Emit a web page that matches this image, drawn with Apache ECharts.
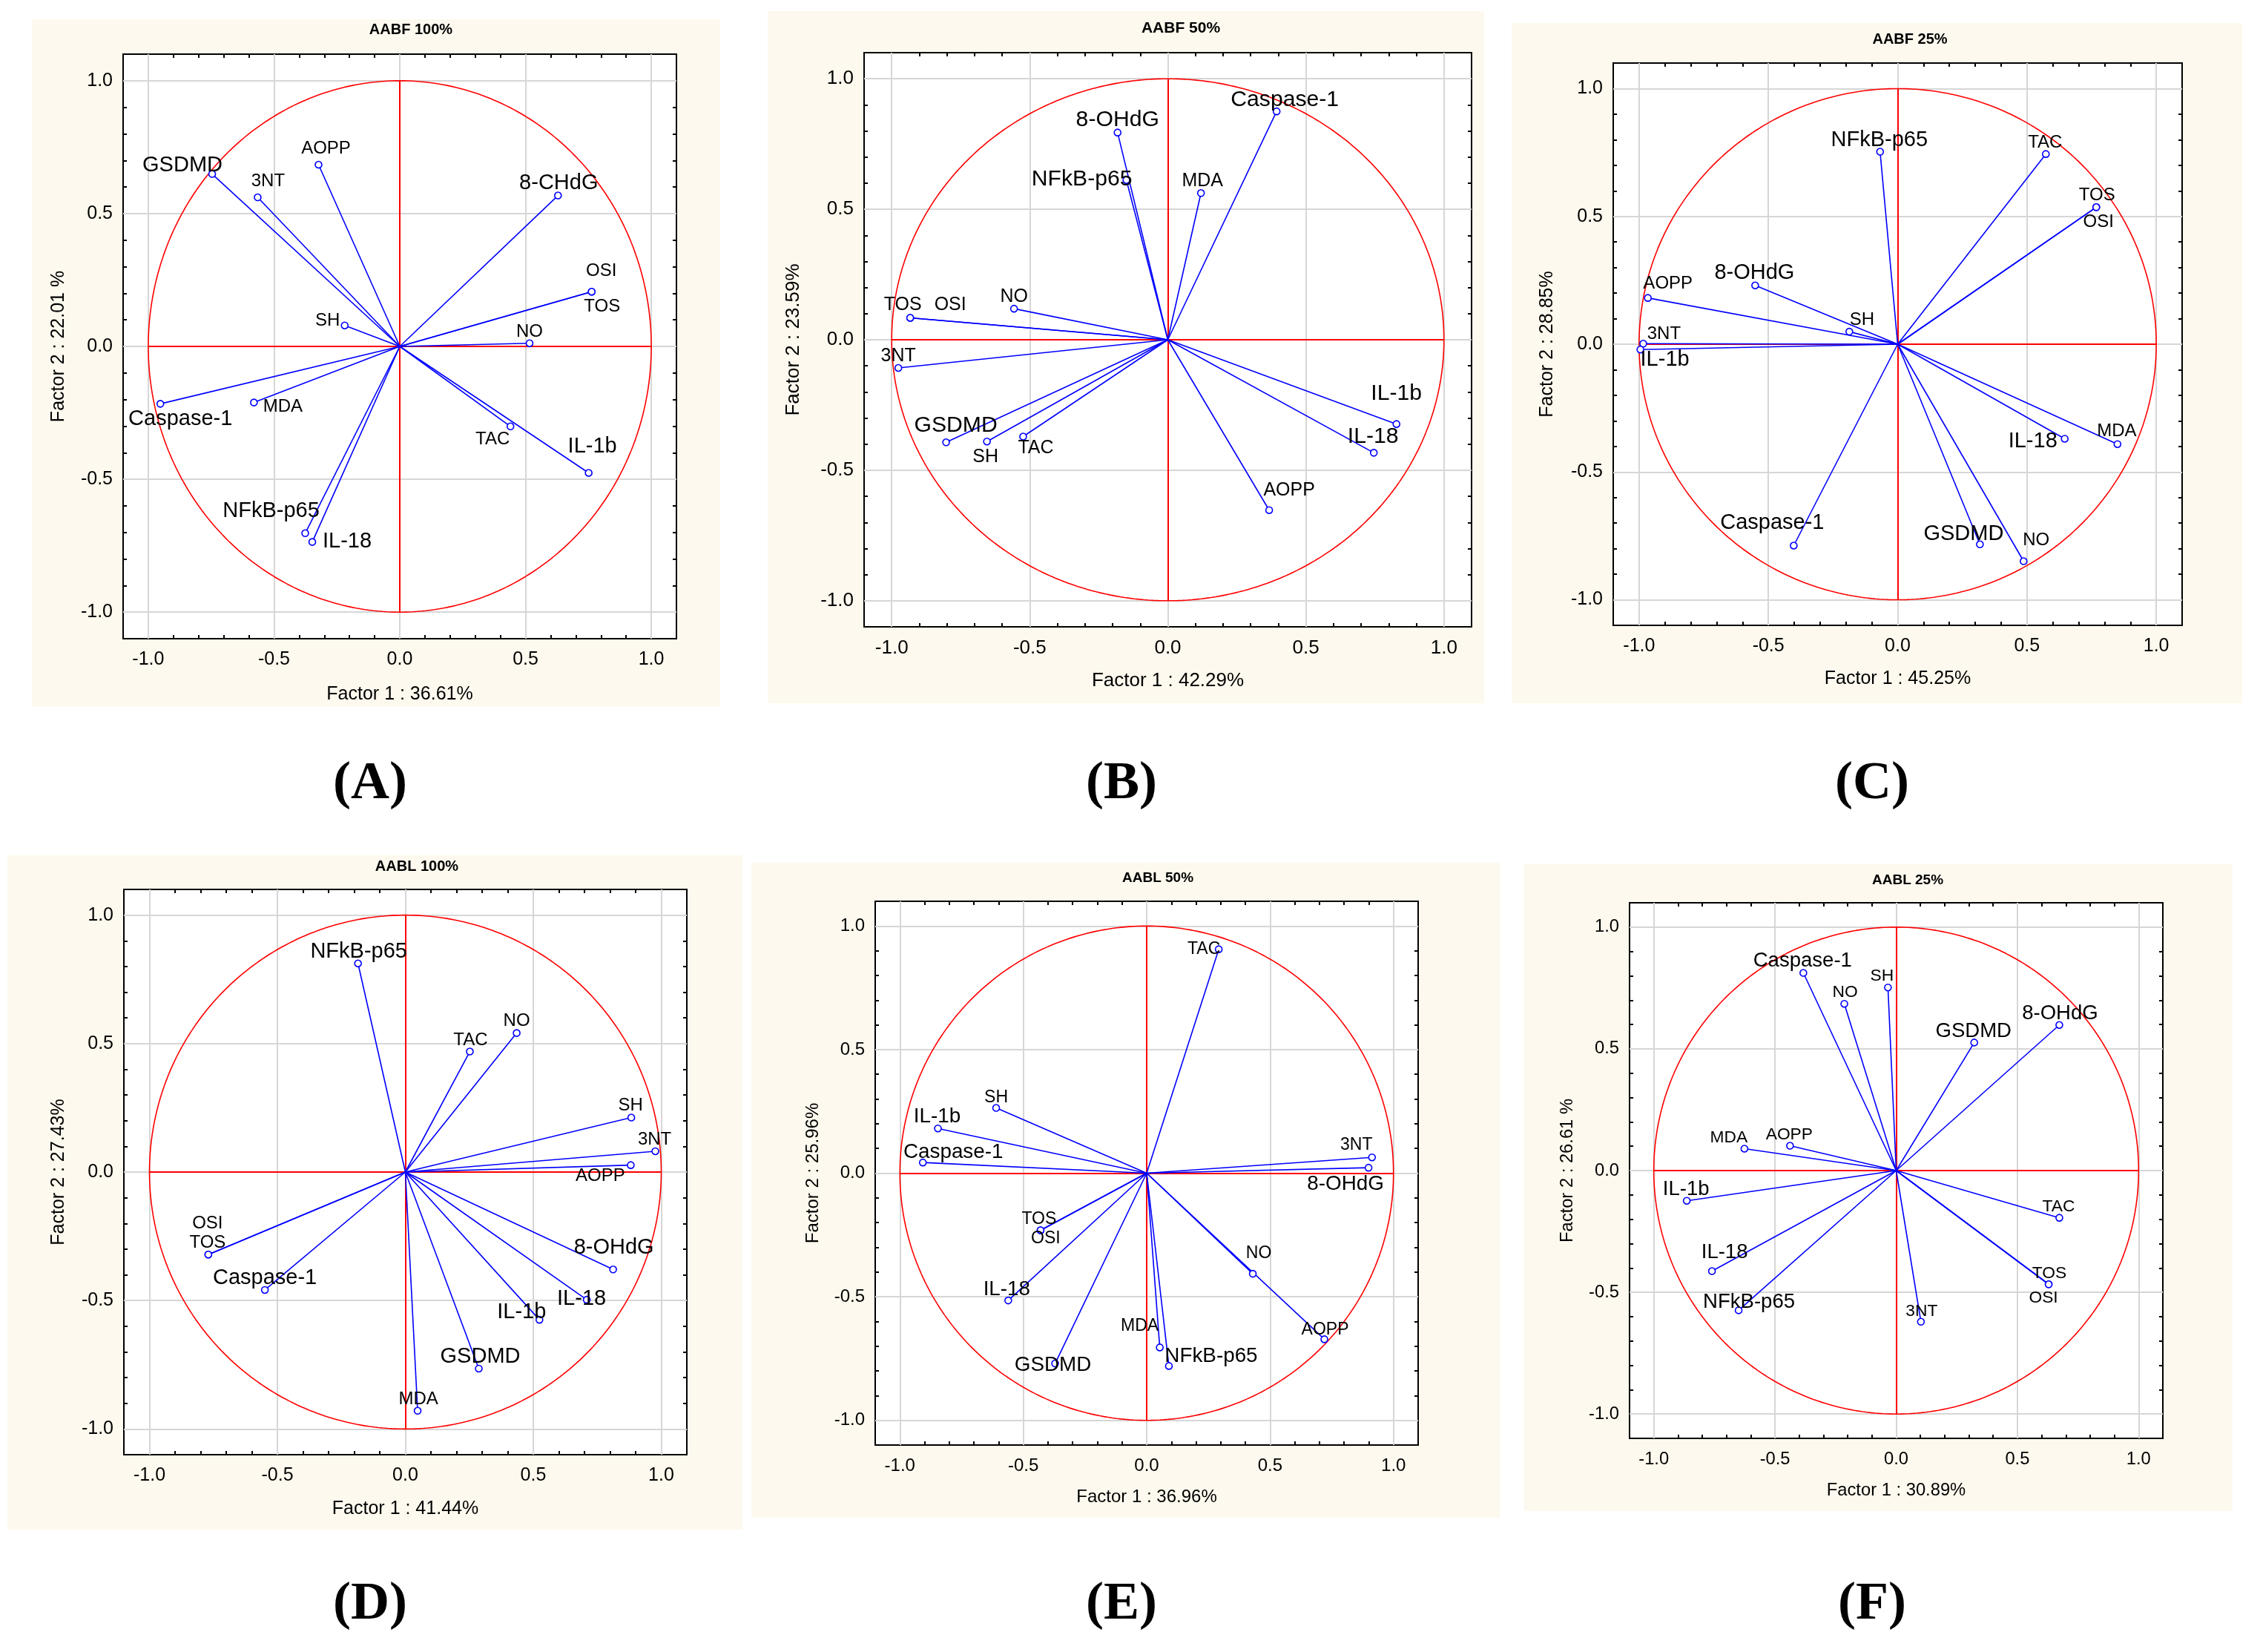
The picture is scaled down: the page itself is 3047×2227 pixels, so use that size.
<!DOCTYPE html>
<html><head><meta charset="utf-8">
<script src="https://cdn.jsdelivr.net/npm/echarts/dist/echarts.min.js"></script>
<style>html,body{margin:0;padding:0;background:#fff;}#c{width:3047px;height:2227px;}</style>
</head><body><div id="c"></div>
<script>
// ---------------- DATA ----------------
const VARS = ['GSDMD','3NT','AOPP','8-OHdG','OSI','TOS','SH','NO','Caspase-1','MDA','TAC','IL-1b','NFkB-p65','IL-18'];
const LABELS_A = ['GSDMD','3NT','AOPP','8-CHdG','OSI','TOS','SH','NO','Caspase-1','MDA','TAC','IL-1b','NFkB-p65','IL-18'];

const PANEL_TITLES = ['AABF 100%','AABF 50%','AABF 25%','AABL 100%','AABL 50%','AABL 25%'];
const PANEL_LETTERS = ['(A)','(B)','(C)','(D)','(E)','(F)'];
const FACTOR1_NAMES = ['Factor 1 : 36.61%','Factor 1 : 42.29%','Factor 1 : 45.25%','Factor 1 : 41.44%','Factor 1 : 36.96%','Factor 1 : 30.89%'];
const FACTOR2_NAMES = ['Factor 2 : 22.01 %','Factor 2 : 23.59%','Factor 2 : 28.85%','Factor 2 : 27.43%','Factor 2 : 25.96%','Factor 2 : 26.61 %'];
const MAJOR_TICKS = [-1, -0.5, 0, 0.5, 1];

// loadings (Factor 1, Factor 2) in VARS order
const A_F1 = [-0.746,-0.565,-0.323, 0.629, 0.763, 0.763,-0.219, 0.516,-0.952,-0.580, 0.440, 0.751,-0.376,-0.348];
const A_F2 = [ 0.649, 0.561, 0.684, 0.568, 0.206, 0.206, 0.079, 0.012,-0.216,-0.211,-0.301,-0.476,-0.703,-0.736];
const B_F1 = [-0.803,-0.976, 0.367,-0.182,-0.933,-0.933,-0.655,-0.557, 0.394, 0.120,-0.524, 0.828,-0.150, 0.746];
const B_F2 = [-0.393,-0.108,-0.653, 0.794, 0.084, 0.084,-0.390, 0.119, 0.875, 0.562,-0.371,-0.323, 0.612,-0.433];
const C_F1 = [ 0.318,-0.984,-0.966,-0.551, 0.768, 0.768,-0.187, 0.487,-0.402, 0.850, 0.573,-0.995,-0.068, 0.646];
const C_F2 = [-0.783, 0.002, 0.181, 0.230, 0.536, 0.536, 0.049,-0.849,-0.788,-0.391, 0.744,-0.021, 0.753,-0.370];
const D_F1 = [ 0.287, 0.977, 0.881, 0.812,-0.770,-0.770, 0.883, 0.435,-0.549, 0.048, 0.252, 0.524,-0.185, 0.709];
const D_F2 = [-0.765, 0.081, 0.027,-0.379,-0.321,-0.321, 0.212, 0.541,-0.459,-0.929, 0.469,-0.575, 0.812,-0.497];
const E_F1 = [-0.371, 0.913, 0.720, 0.899,-0.430,-0.430,-0.610, 0.430,-0.907, 0.053, 0.292,-0.846, 0.090,-0.561];
const E_F2 = [-0.770, 0.064,-0.672, 0.022,-0.231,-0.231, 0.264,-0.407, 0.043,-0.705, 0.906, 0.181,-0.780,-0.515];
const F_F1 = [ 0.322, 0.102,-0.438, 0.673, 0.629, 0.629,-0.034,-0.214,-0.383,-0.626, 0.673,-0.864,-0.650,-0.760];
const F_F2 = [ 0.526,-0.621, 0.102, 0.598,-0.467,-0.467, 0.752, 0.685, 0.812, 0.090,-0.194,-0.124,-0.574,-0.413];

// ---------------- LAYOUT / STYLE ----------------
const LABEL_OFFSETS = [
 [[-40,-12],[14,-22],[10,-22],[1,-17],[13,-28],[14,20],[-23,-6],[0,-15],[27,21],[39,6],[-24,18],[5,-35],[-46,-30],[47,-1]],
 [[13,-23],[0,-16],[27,-27],[0,-17],[54,-17],[-10,-17],[-2,21],[0,-16],[11,-15],[2,-16],[17,16],[0,-41],[-60,-1],[-1,-22]],
 [[-22,-14],[28,-13],[27,-19],[-1,-17],[3,20],[1,-16],[17,-16],[17,-28],[-29,-31],[-1,-17],[-1,-15],[33,14],[-1,-16],[-43,4]],
 [[2,-16],[-1,-16],[-41,15],[1,-29],[-1,-42],[-1,-16],[-1,-16],[0,-16],[0,-16],[1,-15],[1,-15],[-24,-10],[1,-16],[-7,-1]],
 [[-3,2],[-21,-17],[1,-13],[-31,22],[7,11],[-2,-15],[0,-14],[8,-27],[41,-14],[-27,-29],[-20,0],[-1,-16],[57,-13],[-2,-15]],
 [[-1,-15],[1,-14],[-1,-15],[1,-15],[-7,18],[1,-15],[-8,-15],[1,-15],[-1,-16],[-21,-15],[-1,-15],[-1,-15],[14,-11],[17,-25]]
];
const LAYOUT = [
 {bg:[43,26,928,927],   grid:[166,73,746,788],   title:[554,40],   xGap:63, yGap:74, letter:[499,1057], s:1.0},
 {bg:[1035,15,966,933], grid:[1165,71,819,774],  title:[1592,38],  xGap:60, yGap:82, letter:[1512,1057], s:1.04},
 {bg:[2038,31,985,917], grid:[2175,85,767,758],  title:[2575,53],  xGap:60, yGap:76, letter:[2524,1057], s:1.0},
 {bg:[10,1153,991,909], grid:[167,1199,759,762], title:[562,1168], xGap:61, yGap:75, letter:[499,2163], s:1.0},
 {bg:[1013,1163,1009,883], grid:[1180,1215,732,733], title:[1561,1184], xGap:58, yGap:72, letter:[1512,2163], s:0.96},
 {bg:[2055,1165,955,872], grid:[2197,1217,719,722], title:[2572,1187], xGap:58, yGap:72, letter:[2524,2163], s:0.95}
];
const F1S = [A_F1,B_F1,C_F1,D_F1,E_F1,F_F1];
const F2S = [A_F2,B_F2,C_F2,D_F2,E_F2,F_F2];
const BIG = new Set(['Caspase-1','8-OHdG','NFkB-p65','IL-1b','IL-18','GSDMD']);
const FONT = '"Liberation Sans", Arial, Helvetica, sans-serif';
const EDGE = 1.1;

// unit circle (reference circle of correlations)
const CIRCLE = [];
for (let k = 0; k <= 360; k++) { const t = k * Math.PI / 180; CIRCLE.push([Math.cos(t), Math.sin(t)]); }

function fmt(v) {
  const r = Math.round(v * 10) / 10;
  const hit = MAJOR_TICKS.some(m => Math.abs(m - r) < 1e-6);
  if (!hit) return '';
  return (Math.abs(r) < 1e-9 ? 0 : r).toFixed(1);
}

const grids = [], xAxes = [], yAxes = [], series = [], graphics = [];

LAYOUT.forEach((L, i) => {
  const s = L.s;
  grids.push({left: L.grid[0], top: L.grid[1], width: L.grid[2], height: L.grid[3],
    show: true, backgroundColor: '#ffffff', borderColor: '#000000', borderWidth: 2,
    containLabel: false, outerBoundsMode: 'none'});
  const tick = {show: true, inside: true, length: 5, lineStyle: {color: '#000', width: 2}};
  const common = {type: 'value', gridIndex: i, min: -EDGE, max: EDGE, interval: 0.1,
    axisLine: {show: false, onZero: false}, axisTick: tick, splitLine: {show: false}, minorTick: {show: false}};
  xAxes.push(Object.assign({}, common, {position: 'bottom',
    name: FACTOR1_NAMES[i], nameLocation: 'middle', nameGap: L.xGap, nameMoveOverlap: false,
    nameTextStyle: {fontSize: 25 * s, color: '#000', fontFamily: FONT},
    axisLabel: {show: true, formatter: fmt, color: '#000', fontSize: 25 * s, fontFamily: FONT, margin: 16, hideOverlap: false}}));
  xAxes.push(Object.assign({}, common, {position: 'top', axisLabel: {show: false}}));
  yAxes.push(Object.assign({}, common, {position: 'left',
    name: FACTOR2_NAMES[i], nameLocation: 'middle', nameGap: L.yGap, nameMoveOverlap: false,
    nameTextStyle: {fontSize: 25 * s, color: '#000', fontFamily: FONT},
    axisLabel: {show: true, formatter: fmt, color: '#000', fontSize: 25 * s, fontFamily: FONT, margin: 14, hideOverlap: false}}));
  yAxes.push(Object.assign({}, common, {position: 'right', axisLabel: {show: false}}));

  const xi = 2 * i, yi = 2 * i;
  // light grey grid lines at the major ticks
  const gl = [];
  MAJOR_TICKS.forEach(v => { gl.push({coords: [[v, -EDGE], [v, EDGE]]}); gl.push({coords: [[-EDGE, v], [EDGE, v]]}); });
  series.push({type: 'lines', coordinateSystem: 'cartesian2d', xAxisIndex: xi, yAxisIndex: yi, data: gl,
    lineStyle: {color: '#d6d6d6', width: 2, opacity: 1}, silent: true, z: 1, animation: false});
  // circle
  series.push({type: 'line', xAxisIndex: xi, yAxisIndex: yi, data: CIRCLE, showSymbol: false, symbol: 'none',
    lineStyle: {color: '#ff0000', width: 1.6}, silent: true, z: 2, animation: false});
  // red cross
  series.push({type: 'lines', coordinateSystem: 'cartesian2d', xAxisIndex: xi, yAxisIndex: yi,
    data: [{coords: [[-1, 0], [1, 0]]}, {coords: [[0, -1], [0, 1]]}],
    lineStyle: {color: '#ff0000', width: 2, opacity: 1}, silent: true, z: 3, animation: false});
  // vectors
  const f1 = F1S[i], f2 = F2S[i];
  series.push({type: 'lines', coordinateSystem: 'cartesian2d', xAxisIndex: xi, yAxisIndex: yi,
    data: VARS.map((v, k) => ({coords: [[0, 0], [f1[k], f2[k]]]})),
    lineStyle: {color: '#0000ff', width: 1.6, opacity: 1}, silent: true, z: 4, animation: false});
  // endpoints + labels
  const texts = (i === 0) ? LABELS_A : VARS;
  series.push({type: 'scatter', xAxisIndex: xi, yAxisIndex: yi, symbol: 'circle', symbolSize: 9,
    itemStyle: {color: '#ffffff', borderColor: '#0000ff', borderWidth: 1.6, opacity: 1},
    silent: true, z: 5, animation: false,
    data: VARS.map((v, k) => ({
      name: v, value: [f1[k], f2[k]],
      label: {show: true, position: 'inside', formatter: texts[k], offset: LABEL_OFFSETS[i][k],
        color: '#000', fontFamily: FONT, fontSize: (BIG.has(v) ? 29 : 24) * s, align: 'center', verticalAlign: 'middle'}
    }))});

  graphics.push({type: 'rect', z: -10, silent: true,
    shape: {x: L.bg[0], y: L.bg[1], width: L.bg[2], height: L.bg[3]}, style: {fill: '#fef9ee'}});
  graphics.push({type: 'text', z: 10, silent: true, x: L.title[0], y: L.title[1],
    style: {text: PANEL_TITLES[i], font: 'bold ' + Math.round(20 * s) + 'px ' + FONT, fill: '#000', align: 'center', verticalAlign: 'middle'}});
  graphics.push({type: 'text', z: 10, silent: true, x: L.letter[0], y: L.letter[1],
    style: {text: PANEL_LETTERS[i], font: 'bold 72px "Liberation Serif", "Times New Roman", serif', fill: '#000', align: 'center', verticalAlign: 'middle'}});
});

const chart = echarts.init(document.getElementById('c'), null, {renderer: 'canvas', width: 3047, height: 2227});
chart.setOption({
  backgroundColor: '#ffffff',
  animation: false,
  textStyle: {fontFamily: FONT},
  grid: grids, xAxis: xAxes, yAxis: yAxes, series: series, graphic: graphics
});
</script></body></html>
